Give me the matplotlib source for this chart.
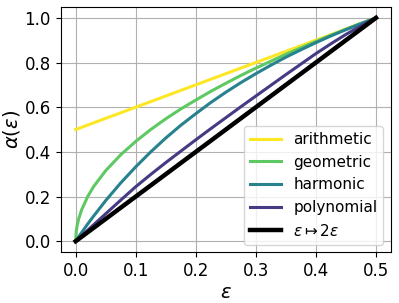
import matplotlib
matplotlib.use("Agg")
import matplotlib.pyplot as plt

# values
eps = [0, 0.001, 0.0025, 0.005, 0.01, 0.02, 0.03, 0.05, 0.075, 0.1, 0.125,
       0.15, 0.175, 0.2, 0.225, 0.25, 0.275, 0.3, 0.325, 0.35, 0.375, 0.4,
       0.425, 0.45, 0.475, 0.5]

arithmetic = [0.5, 0.501, 0.5025, 0.505, 0.51, 0.52, 0.53, 0.55, 0.575, 0.6,
              0.625, 0.65, 0.675, 0.7, 0.725, 0.75, 0.775, 0.8, 0.825, 0.85,
              0.875, 0.9, 0.925, 0.95, 0.975, 1.0]
geometric = [0, 0.045, 0.071, 0.1, 0.141, 0.2, 0.245, 0.316, 0.387, 0.447,
             0.5, 0.548, 0.592, 0.632, 0.671, 0.707, 0.742, 0.775, 0.806,
             0.837, 0.866, 0.894, 0.922, 0.949, 0.975, 1.0]
harmonic = [0, 0.004, 0.01, 0.02, 0.039, 0.077, 0.113, 0.182, 0.261, 0.333,
            0.4, 0.462, 0.519, 0.571, 0.621, 0.667, 0.71, 0.75, 0.788, 0.824,
            0.857, 0.889, 0.919, 0.947, 0.974, 1.0]
polynomial = [0, 0.002, 0.006, 0.012, 0.025, 0.049, 0.074, 0.123, 0.184,
              0.244, 0.299, 0.352, 0.403, 0.454, 0.504, 0.553, 0.602, 0.65,
              0.698, 0.746, 0.793, 0.84, 0.884, 0.926, 0.964, 1.0]

ref_x = [0, 0.5]
ref_y = [0, 1.0]

names = ["arithmetic", "geometric", "harmonic", "polynomial"]
series = [arithmetic, geometric, harmonic, polynomial]
colors = ["#fde725", "#5ec962", "#27828d", "#443b84"]

fig = plt.figure(figsize=(3.99, 3.03), dpi=100)
ax = fig.add_subplot(111)
fig.subplots_adjust(left=0.152, right=0.98, bottom=0.167, top=0.978)

for name, vals, c in zip(names, series, colors):
    ax.plot(eps, vals, color=c, lw=2.2, label=name)
ax.plot(ref_x, ref_y, color="black", lw=3.2, label=r"$\varepsilon \mapsto 2\varepsilon$")

ax.grid(True)
ax.tick_params(labelsize=12)
ax.set_xlabel(r"$\varepsilon$", fontsize=14, labelpad=2)
ax.set_ylabel(r"$\alpha(\varepsilon)$", fontsize=14, labelpad=2)
ax.legend(loc="lower right", fontsize=11)

fig.savefig("out.png", dpi=100)
